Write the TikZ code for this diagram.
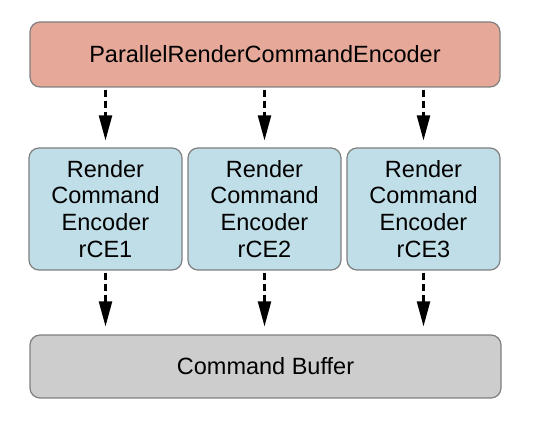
\documentclass[tikz,border=0pt]{standalone}
\usepackage{fontspec}
\setmainfont{Liberation Sans}
\usetikzlibrary{arrows.meta, positioning}
\definecolor{parallelsalmon}{RGB}{230,168,152}
\definecolor{encoderblue}{RGB}{192,222,232}
\definecolor{buffergray}{RGB}{205,205,205}
\definecolor{edgegray}{RGB}{128,128,128}

\begin{document}
\begin{tikzpicture}[x=1pt, y=1pt,
    box/.style={draw=edgegray, line width=1.2pt, rounded corners=10pt, align=center,
      font=\fontsize{23.5}{26.8}\selectfont, inner sep=0pt},
    flow/.style={-{Triangle[length=25pt, width=13pt]}, line width=2.2pt, dash pattern=on 7pt off 4pt}]
  \useasboundingbox (0,0) rectangle (540,442);

  % Encoder boxes
  \node[box, fill=parallelsalmon, minimum width=470pt, minimum height=65pt] (pce) at (265,387.5) {ParallelRenderCommandEncoder};
  \node[box, fill=encoderblue, minimum width=153pt, minimum height=122pt] (rce1) at (105.5,233) {Render\\Command\\Encoder\\rCE1};
  \node[box, fill=encoderblue, minimum width=153pt, minimum height=122pt] (rce2) at (264.5,233) {Render\\Command\\Encoder\\rCE2};
  \node[box, fill=encoderblue, minimum width=153pt, minimum height=122pt] (rce3) at (423.5,233) {Render\\Command\\Encoder\\rCE3};
  \node[box, fill=buffergray, minimum width=471pt, minimum height=63pt] (cbuf) at (265.5,75.5) {Command Buffer};

  % Arrows
  \foreach \n in {rce1, rce2, rce3} {
    \draw[flow, shorten <=2pt, shorten >=7pt] (pce.south -| \n.north) -- (\n.north);
    \draw[flow, shorten <=2pt, shorten >=8pt] (\n.south) -- (cbuf.north -| \n.south);
  }
\end{tikzpicture}
\end{document}
